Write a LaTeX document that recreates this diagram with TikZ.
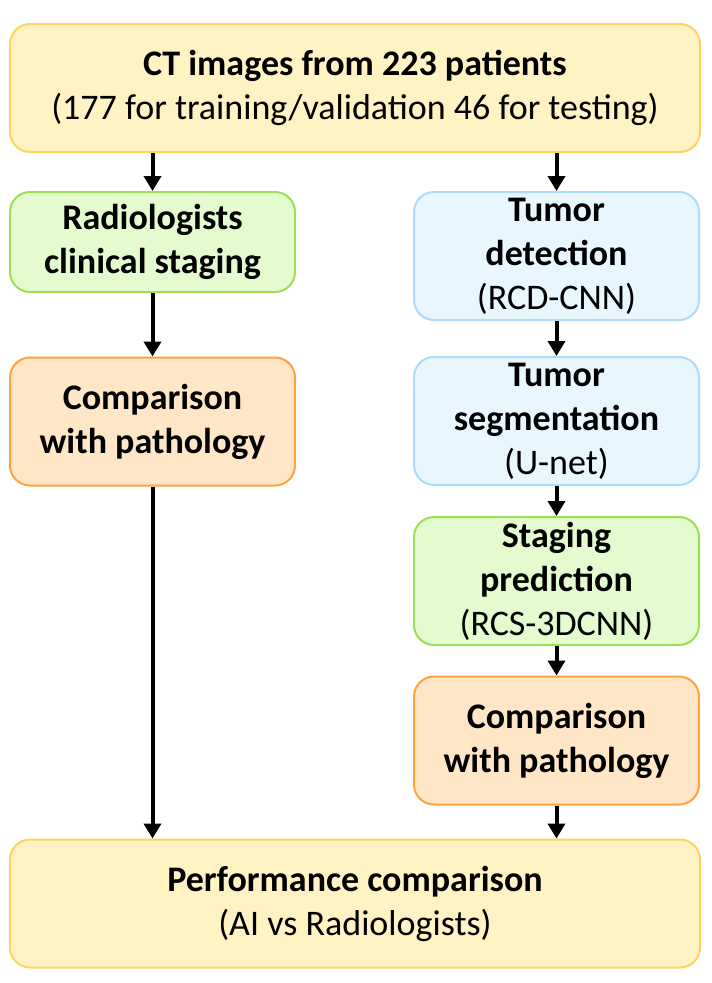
\documentclass[tikz,border=0pt]{standalone}
\usepackage{fontspec}
\setmainfont{Carlito}
\usetikzlibrary{arrows.meta,positioning}
\definecolor{fyellow}{HTML}{FFF3C4}
\definecolor{dyellow}{HTML}{FFD45E}
\definecolor{fgreen}{HTML}{E3FBCF}
\definecolor{dgreen}{HTML}{9DDE58}
\definecolor{fblue}{HTML}{E8F6FE}
\definecolor{dblue}{HTML}{AEDCF8}
\definecolor{forange}{HTML}{FFE6C7}
\definecolor{dorange}{HTML}{FFA23F}

\begin{document}
\begin{tikzpicture}[x=1pt,y=-1pt,
 stagebox/.style={draw, line width=2pt, rounded corners=20pt, align=center,
  inner sep=0pt, font=\fontsize{36}{44}\selectfont},
 smallbox/.style={stagebox, minimum width=285pt, minimum height=128pt},
 widebox/.style={stagebox, minimum width=690pt, minimum height=128pt},
 flow/.style={-{Triangle[length=15pt,width=17pt]}, line width=4pt}]
 \useasboundingbox (0,0) rectangle (712,983);
 % input
 \node[widebox, fill=fyellow, draw=dyellow] (ct) at (355,88)
  {\textbf{CT images from 223 patients}\\(177 for training/validation 46 for testing)};
 % radiologists branch
 \node[smallbox, fill=fgreen, draw=dgreen, minimum height=100pt] (rad) at (152.5,242)
  {\textbf{Radiologists}\\\textbf{clinical staging}};
 \node[smallbox, fill=forange, draw=dorange] (cmpL) at (152.5,421.5)
  {\textbf{Comparison}\\\textbf{with pathology}};
 % AI branch
 \node[smallbox, fill=fblue, draw=dblue] (det) at (556.5,256)
  {\textbf{Tumor}\\\textbf{detection}\\(RCD-CNN)};
 \node[smallbox, fill=fblue, draw=dblue] (seg) at (556.5,421)
  {\textbf{Tumor}\\\textbf{segmentation}\\(U-net)};
 \node[smallbox, fill=fgreen, draw=dgreen] (stg) at (556.5,581)
  {\textbf{Staging}\\\textbf{prediction}\\(RCS-3DCNN)};
 \node[smallbox, fill=forange, draw=dorange] (cmpR) at (556.5,740.5)
  {\textbf{Comparison}\\\textbf{with pathology}};
 % output
 \node[widebox, fill=fyellow, draw=dyellow] (perf) at (355,903.5)
  {\textbf{Performance comparison}\\(AI vs Radiologists)};

 \draw[flow] (ct.south -| rad.north) -- (rad.north);
 \draw[flow] (rad) -- (cmpL);
 \draw[flow] (cmpL.south) -- (cmpL.south |- perf.north);
 \draw[flow] (ct.south -| det.north) -- (det.north);
 \draw[flow] (det) -- (seg);
 \draw[flow] (seg) -- (stg);
 \draw[flow] (stg) -- (cmpR);
 \draw[flow] (cmpR.south) -- (cmpR.south |- perf.north);
\end{tikzpicture}
\end{document}
